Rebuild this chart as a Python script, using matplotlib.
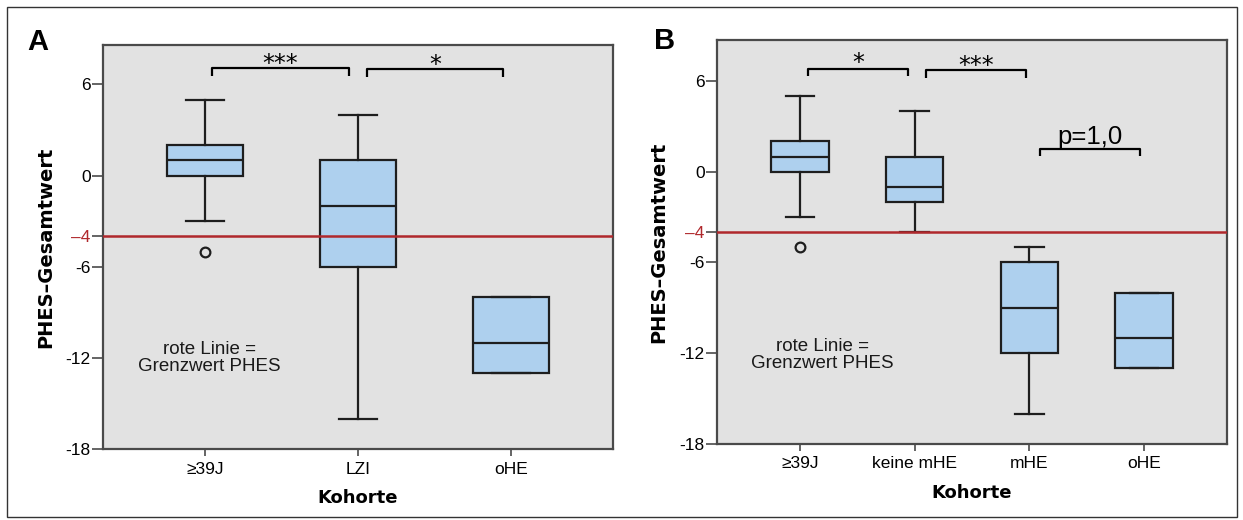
import matplotlib
matplotlib.use('Agg')
import matplotlib.pyplot as plt
from matplotlib.patches import Rectangle

# ---------------- data ----------------
cats_a = ['≥39J', 'LZI', 'oHE']
whislo_a = [-3, -16, -13]
q1_a = [0, -6, -13]
med_a = [1, -2, -11]
q3_a = [2, 1, -8]
whishi_a = [5, 4, -8]
fliers_a = [[-5], [], []]

cats_b = ['≥39J', 'keine mHE', 'mHE', 'oHE']
whislo_b = [-3, -4, -16, -13]
q1_b = [0, -2, -12, -13]
med_b = [1, -1, -9, -11]
q3_b = [2, 1, -6, -8]
whishi_b = [5, 4, -5, -8]
fliers_b = [[-5], [], [], []]

ytick_values = [6, 0, -4, -6, -12, -18]
ytick_labels = ['6', '0', '–4', '-6', '-12', '-18']
cutoff = -4

# significance brackets: (x start, x end, tip y, top y, label, label baseline y)
brackets_a = [(1.045, 1.944, 6.59, 7.10, '***', 6.90),
              (2.06, 2.95, 6.50, 7.03, '*', 6.80)]
brackets_b = [(1.07, 1.94, 6.31, 6.80, '*', 6.70),
              (2.10, 2.97, 6.16, 6.75, '***', 6.50)]
bracket_p = [(3.09, 3.96, 1.01, 1.52, 'p=1,0', 1.85)]

note_text = 'rote Linie =\nGrenzwert PHES'

# ---------------- style ----------------
plt.rcParams['font.family'] = ['Liberation Sans', 'DejaVu Sans']
plt.rcParams['axes.unicode_minus'] = False

W, H = 1243, 520
fig = plt.figure(figsize=(W / 100, H / 100), dpi=100)

BG = '#e2e2e2'
BOX = '#aed0ee'
EDGE = '#1e1e1e'
RED = '#b0282c'
SPINE = '#4a4a4a'


def stats_list(cats, lo, q1, med, q3, hi, fl):
    out = []
    for i in range(len(cats)):
        out.append(dict(label=cats[i], whislo=lo[i], q1=q1[i], med=med[i],
                        q3=q3[i], whishi=hi[i], fliers=fl[i]))
    return out


def draw_panel(rect, cats, stats, brackets, ylim, xlim, note_xy, ylabel_x, letter_xy, letter,
               xlabel_pad):
    ax = fig.add_axes(rect)
    ax.set_facecolor(BG)
    pos = list(range(1, len(cats) + 1))
    ax.bxp(stats, positions=pos, widths=0.5, patch_artist=True,
           boxprops=dict(facecolor=BOX, edgecolor=EDGE, linewidth=1.6),
           whiskerprops=dict(color=EDGE, linewidth=1.6),
           capprops=dict(color=EDGE, linewidth=1.6),
           medianprops=dict(color=EDGE, linewidth=1.6),
           flierprops=dict(marker='o', markerfacecolor='none', markeredgecolor=EDGE,
                           markersize=7, markeredgewidth=1.6),
           showfliers=True, zorder=2)
    ax.axhline(cutoff, color=RED, linewidth=1.8, zorder=5)
    ax.set_xlim(*xlim)
    ax.set_ylim(*ylim)
    ax.set_yticks(ytick_values)
    ax.set_yticklabels(ytick_labels)
    for t, v in zip(ax.get_yticklabels(), ytick_values):
        if v == cutoff:
            t.set_color(RED)
    ax.set_xticks(pos)
    ax.set_xticklabels(cats)
    ax.tick_params(axis='y', length=8, width=1.2, color=SPINE, pad=1, labelsize=12.5)
    ax.tick_params(axis='x', length=5, width=1.2, color=SPINE, pad=4, labelsize=12.5)
    for s in ax.spines.values():
        s.set_color(SPINE)
        s.set_linewidth(1.6)
    # brackets
    for (x0, x1, ytip, ytop, lab, ylab) in brackets:
        ax.plot([x0, x0, x1, x1], [ytip, ytop, ytop, ytip], color='black',
                linewidth=1.6, solid_capstyle='butt', zorder=4)
        if lab.startswith('p'):
            ax.text((x0 + x1) / 2, ylab, lab, ha='center', va='baseline',
                    fontsize=18.5, color='black')
        else:
            ax.text((x0 + x1) / 2, ylab, lab, ha='center', va='baseline',
                    fontsize=17, color='black', family='DejaVu Sans')
    ax.text(note_xy[0], note_xy[1], note_text, ha='center', va='center',
            fontsize=13.5, linespacing=1.0, color='#1a1a1a')
    ax.set_ylabel('PHES–Gesamtwert', fontsize=14, fontweight='bold',
                  family='DejaVu Sans', va='center')
    ax.yaxis.set_label_coords(ylabel_x, 0.5)
    ax.set_xlabel('Kohorte', fontsize=13, fontweight='bold', family='DejaVu Sans',
                  labelpad=xlabel_pad)
    fig.text(letter_xy[0], letter_xy[1], letter, fontsize=21, fontweight='bold',
             ha='left', va='baseline')
    return ax


st_a = stats_list(cats_a, whislo_a, q1_a, med_a, q3_a, whishi_a, fliers_a)
st_b = stats_list(cats_b, whislo_b, q1_b, med_b, q3_b, whishi_b, fliers_b)

draw_panel([103 / W, 1 - 449 / H, 510 / W, 404 / H], cats_a, st_a, brackets_a,
           (-18, 8.6), (0.335, 3.665), (1.03, -12.0), -0.1125,
           (27 / W, 1 - 50 / H), 'A', 9)
draw_panel([717 / W, 1 - 444 / H, 510 / W, 404 / H], cats_b, st_b, brackets_b + bracket_p,
           (-18, 8.7), (0.278, 4.722), (1.195, -12.15), -0.1137,
           (654 / W, 1 - 49 / H), 'B', 9)

fig.patches.append(Rectangle((7 / W, 1 - 517 / H), (1237 - 7) / W, (517 - 7) / H,
                             transform=fig.transFigure, fill=False,
                             edgecolor='#333333', linewidth=1.0))

fig.savefig('out.png', dpi=100)
